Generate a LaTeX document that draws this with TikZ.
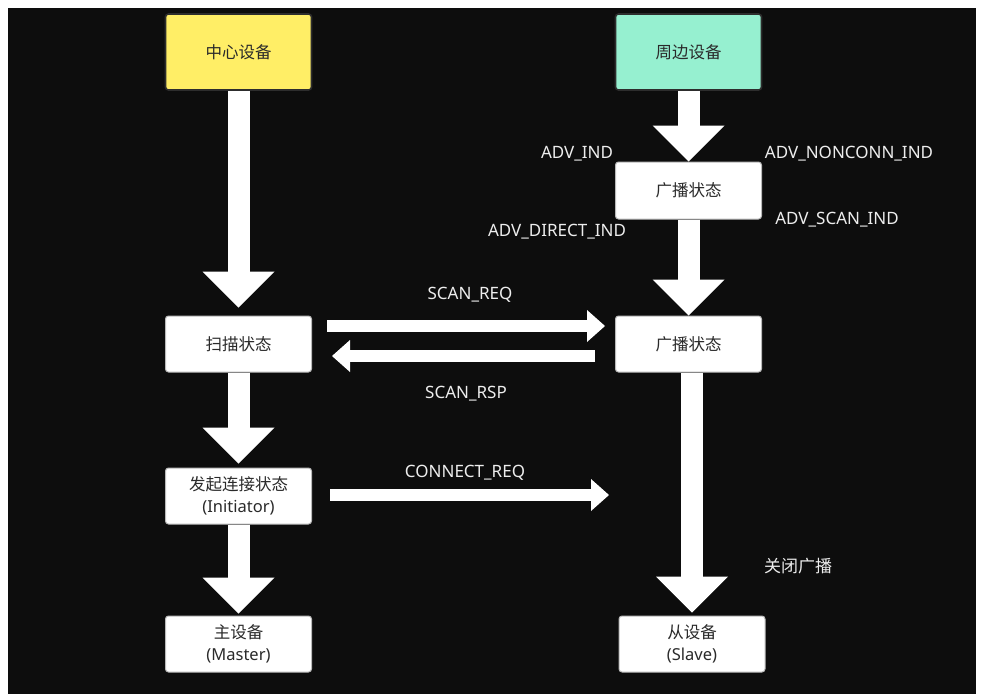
\documentclass[tikz,border=0pt]{standalone}
\usepackage{fontspec}
\setmainfont{Noto Sans}
\newfontfamily\cjk{Noto Sans CJK SC}
\usetikzlibrary{arrows.meta,calc}
\definecolor{bg}{HTML}{0D0D0D}
\definecolor{yel}{HTML}{FFEE66}
\definecolor{mint}{HTML}{96F0D0}
\definecolor{txt}{HTML}{2A2A2A}
\definecolor{lbltxt}{HTML}{EDEDED}
\begin{document}
\begin{tikzpicture}[x=1pt,y=-1pt,
  box/.style={rectangle, rounded corners=3pt, fill=white, draw=gray!55, line width=1pt,
    minimum width=146pt, minimum height=56pt, align=center, text=txt, inner sep=0pt,
    font=\fontsize{16.5}{22}\selectfont},
  topbox/.style={box, minimum height=76pt, draw=gray!35!black, line width=1.6pt},
  lbl/.style={text=lbltxt, inner sep=0pt, font=\fontsize{17}{20}\selectfont},
  bigarrow/.style={draw=white, line width=22pt, -{Triangle[width=72pt,length=36pt,line width=0pt]}},
  smallarrow/.style={draw=white, line width=12pt, -{Triangle[width=32pt,length=18pt,line width=0pt]}}
]
\useasboundingbox (0,0) rectangle (986,699);
\fill[white] (0,0) rectangle (986,699);
\fill[bg] (8,8) rectangle (976,694);

% boxes
\node[topbox, fill=yel]  (center) at (238.5,52) {\cjk 中心设备};
\node[topbox, fill=mint] (periph) at (688.5,52) {\cjk 周边设备};
\node[box] (adv1)   at (688.5,190.5) [minimum height=57pt] {\cjk 广播状态};
\node[box] (scan)   at (238.5,344) {\cjk 扫描状态};
\node[box] (adv2)   at (688.5,344) {\cjk 广播状态};
\node[box] (init)   at (238.5,496) {{\cjk 发起连接状态}\\(Initiator)};
\node[box] (master) at (238.5,644) {{\cjk 主设备}\\(Master)};
\node[box] (slave)  at (692,644)   {{\cjk 从设备}\\(Slave)};

% vertical block arrows
\draw[bigarrow] (center.south) -- ([yshift=8pt]scan.north);
\draw[bigarrow] (scan.south) -- ([yshift=4pt]init.north);
\draw[bigarrow] (init.south) -- ([yshift=2pt]master.north);
\draw[bigarrow] (periph.south) -- (adv1.north);
\draw[bigarrow] (adv1.south) -- (adv2.north);
\draw[bigarrow] (adv2.south -| slave.north) -- ([yshift=3pt]slave.north);

% horizontal arrows
\draw[smallarrow] ($(scan.east)+(15,-18)$) -- ($(adv2.west)+(-10,-18)$);
\draw[smallarrow] ($(adv2.west)+(-20,12)$) -- ($(scan.east)+(20,12)$);
\coordinate (crend) at (609,495);
\draw[smallarrow] ($(init.east)+(18,-1)$) -- (crend);

% labels
\node[lbl] (l1) at (577,154) {ADV\_IND};
\node[lbl] (l2) at (849,154) {ADV\_NONCONN\_IND};
\node[lbl] (l3) at (837,220) {ADV\_SCAN\_IND};
\node[lbl] (l4) at (557,232) {ADV\_DIRECT\_IND};
\node[lbl] (l5) at (470,295) {SCAN\_REQ};
\node[lbl] (l6) at (466,394) {SCAN\_RSP};
\node[lbl] (l7) at (465,473) {CONNECT\_REQ};
\node[lbl] (l8) at (798,566) {\cjk 关闭广播};
\end{tikzpicture}
\end{document}
